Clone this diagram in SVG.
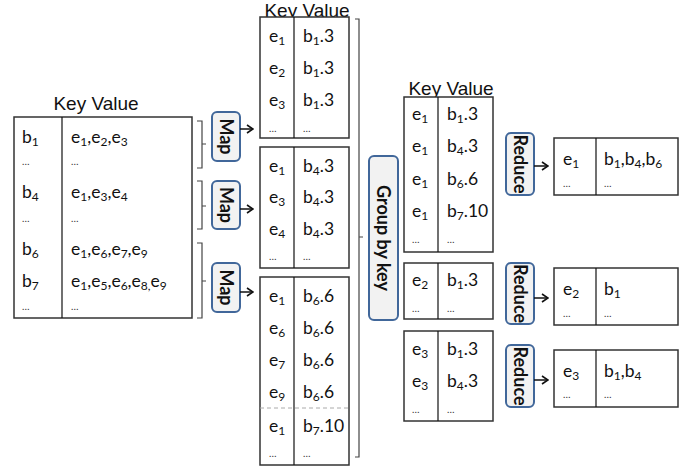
<svg xmlns="http://www.w3.org/2000/svg" width="689" height="468" viewBox="0 0 689 468">
<defs>
<style>
.t{font-family:Lato,"Liberation Sans",sans-serif;font-size:17.5px;fill:#111}
.h{font-family:"Liberation Sans",Arial,sans-serif;font-size:19px;fill:#111;text-anchor:middle}
.d{font-family:Lato,"Liberation Sans",sans-serif;font-size:10px;fill:#333}
.s{font-size:12px}
.tb{fill:#fff;stroke:#333;stroke-width:1.5}
.dv{stroke:#111;stroke-width:1.2}
.op{fill:#f2f2f2;stroke:#41679a;stroke-width:2}
.ol{font-family:Lato,"Liberation Sans",sans-serif;font-size:18px;font-weight:bold;fill:#111;text-anchor:middle}
.br{fill:none;stroke:#444;stroke-width:1.2}
.ar{fill:none;stroke:#111;stroke-width:1.5;marker-end:url(#ah)}
</style>
<marker id="ah" viewBox="0 0 10 10" refX="9" refY="5" markerWidth="10" markerHeight="10" markerUnits="userSpaceOnUse" orient="auto">
<path d="M3,1 L9,5 L3,9" fill="none" stroke="#111" stroke-width="1.6"/>
</marker>
</defs>

<!-- Left input table -->
<g id="input-table">
<text class="h" x="96" y="110">Key Value</text>
<rect class="tb" x="14" y="117" width="178" height="201"/>
<line class="dv" x1="62" y1="117" x2="62" y2="318"/>
<text class="t" x="22" y="143">b<tspan class="s" dy="3">1</tspan></text>
<text class="t" x="71" y="143">e<tspan class="s" dy="3">1</tspan><tspan dy="-3">,e</tspan><tspan class="s" dy="3">2</tspan><tspan dy="-3">,e</tspan><tspan class="s" dy="3">3</tspan></text>
<text class="d" x="22" y="165">…</text><text class="d" x="71" y="165">…</text>
<text class="t" x="22" y="198">b<tspan class="s" dy="3">4</tspan></text>
<text class="t" x="71" y="198">e<tspan class="s" dy="3">1</tspan><tspan dy="-3">,e</tspan><tspan class="s" dy="3">3</tspan><tspan dy="-3">,e</tspan><tspan class="s" dy="3">4</tspan></text>
<text class="d" x="22" y="222">…</text><text class="d" x="71" y="222">…</text>
<text class="t" x="22" y="255">b<tspan class="s" dy="3">6</tspan></text>
<text class="t" x="71" y="255">e<tspan class="s" dy="3">1</tspan><tspan dy="-3">,e</tspan><tspan class="s" dy="3">6</tspan><tspan dy="-3">,e</tspan><tspan class="s" dy="3">7</tspan><tspan dy="-3">,e</tspan><tspan class="s" dy="3">9</tspan></text>
<text class="t" x="22" y="287">b<tspan class="s" dy="3">7</tspan></text>
<text class="t" x="71" y="287">e<tspan class="s" dy="3">1</tspan><tspan dy="-3">,e</tspan><tspan class="s" dy="3">5</tspan><tspan dy="-3">,e</tspan><tspan class="s" dy="3">6</tspan><tspan dy="-3">,e</tspan><tspan class="s" dy="3">8,</tspan><tspan dy="-3">e</tspan><tspan class="s" dy="3">9</tspan></text>
<text class="d" x="22" y="310">…</text><text class="d" x="71" y="310">…</text>
</g>

<!-- Map operators -->
<g id="map1"><rect class="op" x="212" y="112" width="28" height="49" rx="5"/><text class="ol" transform="translate(226,136.5) rotate(90)" dy="0.35em">Map</text></g>
<g id="map2"><rect class="op" x="212" y="181" width="28" height="48" rx="5"/><text class="ol" transform="translate(226,205) rotate(90)" dy="0.35em">Map</text></g>
<g id="map3"><rect class="op" x="212" y="263" width="28" height="49" rx="5"/><text class="ol" transform="translate(226,287.5) rotate(90)" dy="0.35em">Map</text></g>

<!-- Map output tables -->
<g id="map-out1">
<text class="h" x="307" y="17.3">Key Value</text>
<rect class="tb" x="260" y="17" width="89" height="121"/>
<line class="dv" x1="294" y1="17" x2="294" y2="138"/>
<text class="t" x="269" y="42">e<tspan class="s" dy="3">1</tspan></text><text class="t" x="303" y="42">b<tspan class="s" dy="3">1</tspan><tspan dy="-3">.3</tspan></text>
<text class="t" x="269" y="74">e<tspan class="s" dy="3">2</tspan></text><text class="t" x="303" y="74">b<tspan class="s" dy="3">1</tspan><tspan dy="-3">.3</tspan></text>
<text class="t" x="269" y="106">e<tspan class="s" dy="3">3</tspan></text><text class="t" x="303" y="106">b<tspan class="s" dy="3">1</tspan><tspan dy="-3">.3</tspan></text>
<text class="d" x="269" y="132">…</text><text class="d" x="303" y="132">…</text>
</g>
<g id="map-out2">
<rect class="tb" x="260" y="147" width="89" height="121"/>
<line class="dv" x1="294" y1="147" x2="294" y2="268"/>
<text class="t" x="269" y="172">e<tspan class="s" dy="3">1</tspan></text><text class="t" x="303" y="172">b<tspan class="s" dy="3">4</tspan><tspan dy="-3">.3</tspan></text>
<text class="t" x="269" y="203">e<tspan class="s" dy="3">3</tspan></text><text class="t" x="303" y="203">b<tspan class="s" dy="3">4</tspan><tspan dy="-3">.3</tspan></text>
<text class="t" x="269" y="235">e<tspan class="s" dy="3">4</tspan></text><text class="t" x="303" y="235">b<tspan class="s" dy="3">4</tspan><tspan dy="-3">.3</tspan></text>
<text class="d" x="269" y="260">…</text><text class="d" x="303" y="260">…</text>
</g>
<g id="map-out3">
<rect class="tb" x="260" y="277" width="89" height="188"/>
<line class="dv" x1="294" y1="277" x2="294" y2="465"/>
<line x1="260" y1="408" x2="349" y2="408" stroke="#aaa" stroke-width="1" stroke-dasharray="4,3"/>
<text class="t" x="269" y="302">e<tspan class="s" dy="3">1</tspan></text><text class="t" x="303" y="302">b<tspan class="s" dy="3">6</tspan><tspan dy="-3">.6</tspan></text>
<text class="t" x="269" y="334">e<tspan class="s" dy="3">6</tspan></text><text class="t" x="303" y="334">b<tspan class="s" dy="3">6</tspan><tspan dy="-3">.6</tspan></text>
<text class="t" x="269" y="366">e<tspan class="s" dy="3">7</tspan></text><text class="t" x="303" y="366">b<tspan class="s" dy="3">6</tspan><tspan dy="-3">.6</tspan></text>
<text class="t" x="269" y="398">e<tspan class="s" dy="3">9</tspan></text><text class="t" x="303" y="398">b<tspan class="s" dy="3">6</tspan><tspan dy="-3">.6</tspan></text>
<text class="t" x="269" y="432">e<tspan class="s" dy="3">1</tspan></text><text class="t" x="303" y="432">b<tspan class="s" dy="3">7</tspan><tspan dy="-3">.10</tspan></text>
<text class="d" x="269" y="457">…</text><text class="d" x="303" y="457">…</text>
</g>

<!-- Group by key -->
<g id="group-by-key"><rect class="op" x="369" y="156" width="29" height="164" rx="5"/><text class="ol" transform="translate(383.5,238) rotate(90)" dy="0.35em">Group by key</text></g>

<!-- Grouped tables -->
<g id="group1">
<text class="h" x="451" y="95">Key Value</text>
<rect class="tb" x="404" y="97" width="89" height="155"/>
<line class="dv" x1="438" y1="97" x2="438" y2="252"/>
<text class="t" x="412" y="120">e<tspan class="s" dy="3">1</tspan></text><text class="t" x="447" y="120">b<tspan class="s" dy="3">1</tspan><tspan dy="-3">.3</tspan></text>
<text class="t" x="412" y="152">e<tspan class="s" dy="3">1</tspan></text><text class="t" x="447" y="152">b<tspan class="s" dy="3">4</tspan><tspan dy="-3">.3</tspan></text>
<text class="t" x="412" y="185">e<tspan class="s" dy="3">1</tspan></text><text class="t" x="447" y="185">b<tspan class="s" dy="3">6</tspan><tspan dy="-3">.6</tspan></text>
<text class="t" x="412" y="217">e<tspan class="s" dy="3">1</tspan></text><text class="t" x="447" y="217">b<tspan class="s" dy="3">7</tspan><tspan dy="-3">.10</tspan></text>
<text class="d" x="412" y="243">…</text><text class="d" x="447" y="243">…</text>
</g>
<g id="group2">
<rect class="tb" x="404" y="263" width="89" height="56"/>
<line class="dv" x1="438" y1="263" x2="438" y2="319"/>
<text class="t" x="412" y="286">e<tspan class="s" dy="3">2</tspan></text><text class="t" x="447" y="286">b<tspan class="s" dy="3">1</tspan><tspan dy="-3">.3</tspan></text>
<text class="d" x="412" y="312">…</text><text class="d" x="447" y="312">…</text>
</g>
<g id="group3">
<rect class="tb" x="404" y="331" width="89" height="90"/>
<line class="dv" x1="438" y1="331" x2="438" y2="421"/>
<text class="t" x="412" y="355">e<tspan class="s" dy="3">3</tspan></text><text class="t" x="447" y="355">b<tspan class="s" dy="3">1</tspan><tspan dy="-3">.3</tspan></text>
<text class="t" x="412" y="387">e<tspan class="s" dy="3">3</tspan></text><text class="t" x="447" y="387">b<tspan class="s" dy="3">4</tspan><tspan dy="-3">.3</tspan></text>
<text class="d" x="412" y="413">…</text><text class="d" x="447" y="413">…</text>
</g>

<!-- Reduce operators -->
<g id="reduce1"><rect class="op" x="506" y="133" width="28" height="62" rx="5"/><text class="ol" transform="translate(520,164) rotate(90)" dy="0.35em">Reduce</text></g>
<g id="reduce2"><rect class="op" x="506" y="263" width="28" height="61" rx="5"/><text class="ol" transform="translate(520,293.5) rotate(90)" dy="0.35em">Reduce</text></g>
<g id="reduce3"><rect class="op" x="506" y="345" width="28" height="62" rx="5"/><text class="ol" transform="translate(520,376) rotate(90)" dy="0.35em">Reduce</text></g>

<!-- Result tables -->
<g id="result1">
<rect class="tb" x="554" y="138" width="124" height="57"/>
<line class="dv" x1="596" y1="138" x2="596" y2="195"/>
<text class="t" x="563" y="165">e<tspan class="s" dy="3">1</tspan></text>
<text class="t" x="604" y="165">b<tspan class="s" dy="3">1</tspan><tspan dy="-3">,b</tspan><tspan class="s" dy="3">4</tspan><tspan dy="-3">,b</tspan><tspan class="s" dy="3">6</tspan></text>
<text class="d" x="563" y="187">…</text><text class="d" x="604" y="187">…</text>
</g>
<g id="result2">
<rect class="tb" x="554" y="268" width="124" height="57"/>
<line class="dv" x1="596" y1="268" x2="596" y2="325"/>
<text class="t" x="563" y="295">e<tspan class="s" dy="3">2</tspan></text>
<text class="t" x="604" y="295">b<tspan class="s" dy="3">1</tspan></text>
<text class="d" x="563" y="317">…</text><text class="d" x="604" y="317">…</text>
</g>
<g id="result3">
<rect class="tb" x="554" y="350" width="124" height="57"/>
<line class="dv" x1="596" y1="350" x2="596" y2="407"/>
<text class="t" x="563" y="377">e<tspan class="s" dy="3">3</tspan></text>
<text class="t" x="604" y="377">b<tspan class="s" dy="3">1</tspan><tspan dy="-3">,b</tspan><tspan class="s" dy="3">4</tspan></text>
<text class="d" x="563" y="398">…</text><text class="d" x="604" y="398">…</text>
</g>

<!-- Connectors -->
<g id="connectors">
<path class="br" d="M197,121 H202 V168 H197 M202,144 H206"/>
<path class="br" d="M197,181 H202 V229 H197 M202,206 H206"/>
<path class="br" d="M197,243 H202 V318 H197 M202,281 H206"/>
<path class="br" d="M355,19 H359 V457 H355 M359,237 H363"/>
<line class="ar" x1="240" y1="129" x2="253" y2="129"/>
<line class="ar" x1="240" y1="209" x2="253" y2="209"/>
<line class="ar" x1="240" y1="292" x2="253" y2="292"/>
<line class="ar" x1="534" y1="166" x2="548" y2="166"/>
<line class="ar" x1="534" y1="298" x2="548" y2="298"/>
<line class="ar" x1="534" y1="380" x2="548" y2="380"/>
</g>
</svg>
